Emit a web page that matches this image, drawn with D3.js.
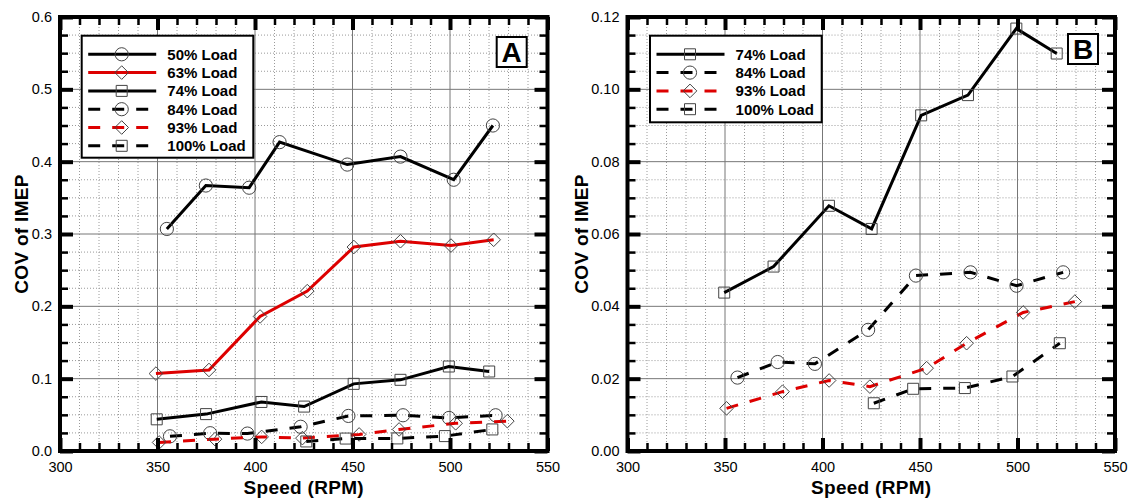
<!DOCTYPE html>
<html>
<head>
<meta charset="utf-8">
<script src="https://cdn.jsdelivr.net/npm/d3@7"></script>
<style>
  html, body { margin: 0; padding: 0; background: #fff; }
  svg { display: block; font-family: "Liberation Sans", Arial, sans-serif; }
</style>
</head>
<body>
<svg id="chart" width="1131" height="500"></svg>
<script>
// ---------------- DATA ----------------
const speedTicks = [300, 350, 400, 450, 500, 550];
const yTicksA = [0.0, 0.1, 0.2, 0.3, 0.4, 0.5, 0.6];
const yTicksB = [0.00, 0.02, 0.04, 0.06, 0.08, 0.10, 0.12];

const rpm50 = [354.8, 374.8, 397.0, 412.6, 447.3, 474.6, 501.9, 522.0];
const cov50 = [0.307, 0.367, 0.364, 0.427, 0.396, 0.407, 0.375, 0.450];
const rpm63 = [349.2, 376.4, 402.6, 426.8, 450.7, 474.6, 500.5, 522.4];
const cov63 = [0.107, 0.112, 0.186, 0.221, 0.282, 0.290, 0.284, 0.292];
const rpm74 = [349.6, 374.9, 403.3, 425.2, 450.6, 474.6, 499.4, 520.1];
const cov74 = [0.0438, 0.0510, 0.0678, 0.0614, 0.0928, 0.0984, 0.1168, 0.1099];
const rpm84 = [356.4, 377.0, 396.1, 423.4, 447.9, 475.9, 499.5, 523.4];
const cov84 = [0.0203, 0.0246, 0.0241, 0.0335, 0.0485, 0.0494, 0.0457, 0.0494];
const rpm93 = [350.8, 379.5, 403.4, 424.3, 453.4, 473.9, 502.9, 529.4];
const cov93 = [0.0118, 0.0164, 0.0195, 0.0178, 0.0229, 0.0298, 0.0383, 0.0413];
const rpm100 = [426.3, 446.5, 473.0, 497.4, 521.7];
const cov100 = [0.0132, 0.0172, 0.0174, 0.0206, 0.0298];

const seriesNamesA = ["50% Load", "63% Load", "74% Load", "84% Load", "93% Load", "100% Load"];
const seriesNamesB = ["74% Load", "84% Load", "93% Load", "100% Load"];

// ---------------- STYLE ----------------
const RED = "#dd0000";
const styles = {
  "50% Load":  {x: rpm50,  y: cov50,  color: "#000", dash: null, marker: "circle"},
  "63% Load":  {x: rpm63,  y: cov63,  color: RED,    dash: null, marker: "diamond"},
  "74% Load":  {x: rpm74,  y: cov74,  color: "#000", dash: null, marker: "square"},
  "84% Load":  {x: rpm84,  y: cov84,  color: "#000", dash: "12,12", marker: "circle"},
  "93% Load":  {x: rpm93,  y: cov93,  color: RED,    dash: "12,12", marker: "diamond"},
  "100% Load": {x: rpm100, y: cov100, color: "#000", dash: "12,12", marker: "square"}
};

const svg = d3.select("#chart");

function markerPath(type) {
  if (type === "circle") return d3.symbol().type(d3.symbolCircle).size(Math.PI * 6.6 * 6.6)();
  if (type === "square") return "M-5.5,-5.5H5.5V5.5H-5.5Z";
  return "M0,-6.8L6.8,0L0,6.8L-6.8,0Z";
}

function drawPanel(opt) {
  const x = d3.scaleLinear().domain([300, 550]).range([opt.left, opt.right]);
  const y = d3.scaleLinear().domain([0, opt.ymax]).range([451, 17]);
  const g = svg.append("g");

  // minor grid
  const xMinor = d3.range(300, 551, 10).filter(v => v % 50 !== 0);
  const yMinorVals = d3.range(0, opt.ymax + 1e-9, opt.yminor).map(v => +v.toFixed(5));
  const yMinor = yMinorVals.filter(v => !opt.yticks.some(t => Math.abs(t - v) < 1e-9));
  g.selectAll(".gxm").data(xMinor).enter().append("line")
    .attr("x1", d => x(d)).attr("x2", d => x(d)).attr("y1", y(0)).attr("y2", y(opt.ymax))
    .attr("stroke", "#9a9a9a").attr("stroke-width", 1).attr("stroke-dasharray", "1,2");
  g.selectAll(".gym").data(yMinor).enter().append("line")
    .attr("y1", d => y(d)).attr("y2", d => y(d)).attr("x1", x(300)).attr("x2", x(550))
    .attr("stroke", "#9a9a9a").attr("stroke-width", 1).attr("stroke-dasharray", "1,2");
  // major grid
  g.selectAll(".gx").data(speedTicks.slice(1, -1)).enter().append("line")
    .attr("x1", d => x(d)).attr("x2", d => x(d)).attr("y1", y(0)).attr("y2", y(opt.ymax))
    .attr("stroke", "#777").attr("stroke-width", 1);
  g.selectAll(".gy").data(opt.yticks.slice(1, -1)).enter().append("line")
    .attr("y1", d => y(d)).attr("y2", d => y(d)).attr("x1", x(300)).attr("x2", x(550))
    .attr("stroke", "#777").attr("stroke-width", 1);

  // series
  const line = d3.line().x(d => x(d[0])).y(d => y(d[1]));
  opt.series.forEach(name => {
    const s = styles[name];
    const pts = s.x.map((v, i) => [v, s.y[i]]);
    g.append("path").attr("d", line(pts)).attr("fill", "none")
      .attr("stroke", s.color).attr("stroke-width", 3)
      .attr("stroke-dasharray", s.dash);
    g.selectAll(null).data(pts).enter().append("path")
      .attr("d", markerPath(s.marker))
      .attr("transform", d => `translate(${x(d[0])},${y(d[1])})`)
      .attr("fill", "none").attr("stroke", "#444").attr("stroke-width", 1);
  });

  // axes: major + minor ticks inward on all four sides
  const fmt = d3.format(opt.fmt);
  const axB = g.append("g").attr("transform", `translate(0,${y(0)})`)
    .call(d3.axisBottom(x).tickValues(speedTicks).tickSize(-13).tickPadding(10.5));
  const axL = g.append("g").attr("transform", `translate(${x(300)},0)`)
    .call(d3.axisLeft(y).tickValues(opt.yticks).tickFormat(fmt).tickSize(-13).tickPadding(8));
  const axT = g.append("g").attr("transform", `translate(0,${y(opt.ymax)})`)
    .call(d3.axisTop(x).tickValues(speedTicks).tickSize(-13).tickFormat(""));
  const axR = g.append("g").attr("transform", `translate(${x(550)},0)`)
    .call(d3.axisRight(y).tickValues(opt.yticks).tickSize(-13).tickFormat(""));
  [axB, axL, axT, axR].forEach(a => {
    a.select(".domain").remove();
    a.selectAll(".tick line").attr("stroke", "#000").attr("stroke-width", 4);
    a.selectAll(".tick text").attr("fill", "#000").style("font-size", "14.5px")
      .style("font-family", "'Liberation Sans', Arial, sans-serif");
  });
  const mB = g.append("g").attr("transform", `translate(0,${y(0)})`)
    .call(d3.axisBottom(x).tickValues(xMinor).tickSize(-8).tickFormat(""));
  const mT = g.append("g").attr("transform", `translate(0,${y(opt.ymax)})`)
    .call(d3.axisTop(x).tickValues(xMinor).tickSize(-8).tickFormat(""));
  const mL = g.append("g").attr("transform", `translate(${x(300)},0)`)
    .call(d3.axisLeft(y).tickValues(yMinor).tickSize(-8).tickFormat(""));
  const mR = g.append("g").attr("transform", `translate(${x(550)},0)`)
    .call(d3.axisRight(y).tickValues(yMinor).tickSize(-8).tickFormat(""));
  [mB, mT, mL, mR].forEach(a => {
    a.select(".domain").remove();
    a.selectAll(".tick line").attr("stroke", "#000").attr("stroke-width", 2.5);
  });

  // frame
  g.append("rect").attr("x", x(300)).attr("y", y(opt.ymax))
    .attr("width", x(550) - x(300)).attr("height", y(0) - y(opt.ymax))
    .attr("fill", "none").attr("stroke", "#000").attr("stroke-width", 4);

  // axis titles
  g.append("text").attr("x", (x(300) + x(550)) / 2).attr("y", 494)
    .attr("text-anchor", "middle").style("font-size", "19px").style("font-weight", "bold")
    .style("letter-spacing", "0.3px").text("Speed (RPM)");
  g.append("text").attr("transform", `translate(${opt.ytitleX},234) rotate(-90)`)
    .attr("text-anchor", "middle").attr("dy", "0.35em")
    .style("font-size", "19px").style("font-weight", "bold")
    .style("letter-spacing", "0.3px").text("COV of IMEP");

  // legend
  const lg = svg.append("g");
  const L = opt.legend;
  const rowH = 18.3;
  lg.append("rect").attr("x", L.x).attr("y", L.y)
    .attr("width", L.w).attr("height", L.h)
    .attr("fill", "#fff").attr("stroke", "#000").attr("stroke-width", 2);
  opt.series.forEach((name, i) => {
    const s = styles[name];
    const ry = L.y + 18.6 + i * rowH;
    const x0 = L.x + 6.5;
    const x1 = s.dash ? x0 + 60 : x0 + 68;
    lg.append("line").attr("x1", x0).attr("x2", x1).attr("y1", ry).attr("y2", ry)
      .attr("stroke", s.color).attr("stroke-width", 3).attr("stroke-dasharray", s.dash);
    lg.append("path").attr("d", markerPath(s.marker))
      .attr("transform", `translate(${L.x + 40},${ry})`)
      .attr("fill", "none").attr("stroke", "#444").attr("stroke-width", 1);
    lg.append("text").attr("x", L.x + 85.6).attr("y", ry).attr("dy", "0.36em")
      .style("font-size", "15px").style("font-weight", "bold").text(name);
  });

  // panel label
  const P = opt.label;
  svg.append("rect").attr("x", P.x).attr("y", P.y).attr("width", 30).attr("height", 30)
    .attr("fill", "#fff").attr("stroke", "#000").attr("stroke-width", 2);
  svg.append("text").attr("x", P.x + 15).attr("y", P.y + 15).attr("dy", "0.36em")
    .attr("text-anchor", "middle").style("font-size", "28px").style("font-weight", "bold")
    .text(P.text);
}

drawPanel({
  left: 60, right: 547.5, ymax: 0.6, yticks: yTicksA, yminor: 0.025, fmt: ".1f",
  series: seriesNamesA, ytitleX: 21,
  legend: {x: 81.7, y: 35.7, w: 171.6, h: 122},
  label: {x: 496.7, y: 37, text: "A"}
});
drawPanel({
  left: 627.5, right: 1115, ymax: 0.12, yticks: yTicksB, yminor: 0.005, fmt: ".2f",
  series: seriesNamesB, ytitleX: 581,
  legend: {x: 650, y: 35.7, w: 171.7, h: 86.6},
  label: {x: 1068, y: 34, text: "B"}
});
</script>
</body>
</html>
